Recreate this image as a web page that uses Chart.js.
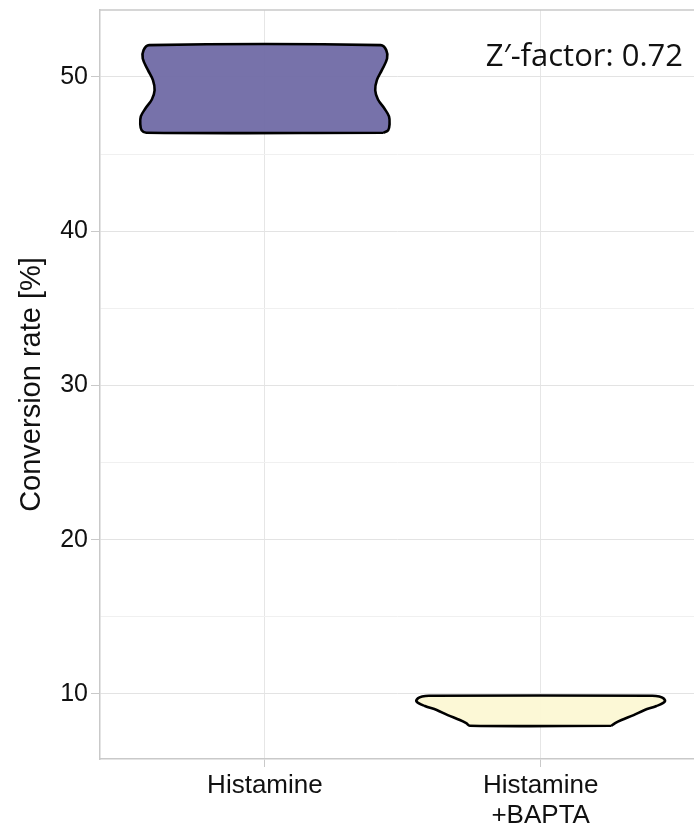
<!DOCTYPE html>
<html>
<head>
<meta charset="utf-8">
<script src="https://cdn.jsdelivr.net/npm/chart.js@4.4.1/dist/chart.umd.min.js"></script>
<style>
  html, body { margin: 0; padding: 0; background: #fff; }
  #wrap { width: 694px; height: 828px; }
</style>
</head>
<body>
<div id="wrap"><canvas id="chart"></canvas></div>
<script>
// categories and x positions on the axis
const categories = [['Histamine'], ['Histamine', '+BAPTA']];
const catPos = [0, 1];

// violin outlines: y values (conversion rate, %) and half widths (density, in category units)
const histY = [46.38, 46.54, 46.94, 47.44, 47.94, 48.54, 49.14, 49.79, 50.44, 51.19, 51.74, 52.06];
const histW = [0.43, 0.447, 0.452, 0.45, 0.434, 0.41, 0.40, 0.406, 0.424, 0.443, 0.44, 0.42];

const baptaY = [7.94, 8.11, 8.31, 8.63, 8.96, 9.22, 9.50, 9.72, 9.84, 9.89];
const baptaW = [0.257, 0.27, 0.293, 0.337, 0.377, 0.42, 0.45, 0.445, 0.43, 0.405];

const yTicks = [10, 15, 20, 25, 30, 35, 40, 45, 50];
const zFactor = 0.72;

// build the closed outline: up the right side, down the left side
function outline(center, ys, ws) {
    const pts = [];
    for (let i = 0; i < ys.length; i++) pts.push({ x: center + ws[i], y: ys[i] });
    for (let i = ys.length - 1; i >= 0; i--) pts.push({ x: center - ws[i], y: ys[i] });
    pts.push({ x: center + ws[0], y: ys[0] });
    return pts;
}

// top frame line + Z'-factor note
const framePlugin = {
    id: 'frame',
    beforeDatasetsDraw(chart) {
        const { ctx, chartArea } = chart;
        ctx.save();
        ctx.strokeStyle = '#c9c9c9';
        ctx.lineWidth = 1.5;
        ctx.beginPath();
        ctx.moveTo(chartArea.left, chartArea.top);
        ctx.lineTo(chartArea.right, chartArea.top);
        ctx.stroke();
        ctx.restore();
    },
    afterDraw(chart) {
        const { ctx } = chart;
        ctx.save();
        ctx.font = '31px "Open Sans"';
        ctx.fillStyle = '#111';
        ctx.textAlign = 'right';
        ctx.textBaseline = 'alphabetic';
        ctx.fillText('Z\u2032-factor: ' + zFactor.toFixed(2), 683, 66);
        ctx.restore();
    }
};

new Chart(document.getElementById('chart'), {
    type: 'scatter',
    data: {
        datasets: [
            {
                label: 'Histamine',
                data: outline(catPos[0], histY, histW),
                showLine: true,
                fill: 'shape',
                backgroundColor: 'rgba(112,106,165,0.95)',
                borderColor: '#000',
                borderWidth: 2.6,
                pointRadius: 0,
                tension: 0.35
            },
            {
                label: 'Histamine +BAPTA',
                data: outline(catPos[1], baptaY, baptaW),
                showLine: true,
                fill: 'shape',
                backgroundColor: 'rgba(252,248,212,0.95)',
                borderColor: '#000',
                borderWidth: 2.6,
                pointRadius: 0,
                tension: 0.35
            }
        ]
    },
    options: {
        responsive: true,
        maintainAspectRatio: false,
        animation: false,
        layout: { padding: { top: 10, right: 0, left: 0, bottom: 0 } },
        plugins: {
            legend: { display: false },
            tooltip: { enabled: false }
        },
        scales: {
            x: {
                type: 'linear',
                min: -0.598,
                max: 1.556,
                afterBuildTicks: (scale) => { scale.ticks = catPos.map(v => ({ value: v })); },
                afterFit: (scale) => { scale.height = 69; scale.paddingLeft = 0; scale.paddingRight = 0; },
                ticks: {
                    callback: (v) => categories[catPos.indexOf(v)],
                    font: { family: '"Liberation Sans", Arial', size: 26, lineHeight: 1.15 },
                    color: '#111',
                    padding: 4,
                    maxRotation: 0
                },
                grid: { color: '#e6e6e6', lineWidth: 1, tickLength: 8, tickColor: '#c9c9c9' },
                border: { color: '#c9c9c9', width: 1.5 }
            },
            y: {
                min: 5.786,
                max: 54.34,
                afterBuildTicks: (scale) => { scale.ticks = yTicks.map(v => ({ value: v })); },
                afterFit: (scale) => { scale.width = 100; scale.paddingTop = 0; scale.paddingBottom = 0; },
                ticks: {
                    callback: (v) => (v % 10 === 0 ? v : ''),
                    font: { family: '"Liberation Sans", Arial', size: 25 },
                    color: '#111',
                    padding: 3
                },
                grid: {
                    color: (c) => (c.tick && c.tick.value % 10 === 0 ? '#e3e3e3' : '#f0f0f0'),
                    tickColor: (c) => (c.tick && c.tick.value % 10 === 0 ? '#c9c9c9' : 'rgba(0,0,0,0)'),
                    tickLength: 9
                },
                border: { color: '#c9c9c9', width: 1.5 },
                title: {
                    display: true,
                    text: 'Conversion rate [%]',
                    font: { family: '"Liberation Sans", Arial', size: 29 },
                    color: '#111',
                    padding: { top: 15, bottom: 0 }
                }
            }
        }
    },
    plugins: [framePlugin]
});
</script>
</body>
</html>
